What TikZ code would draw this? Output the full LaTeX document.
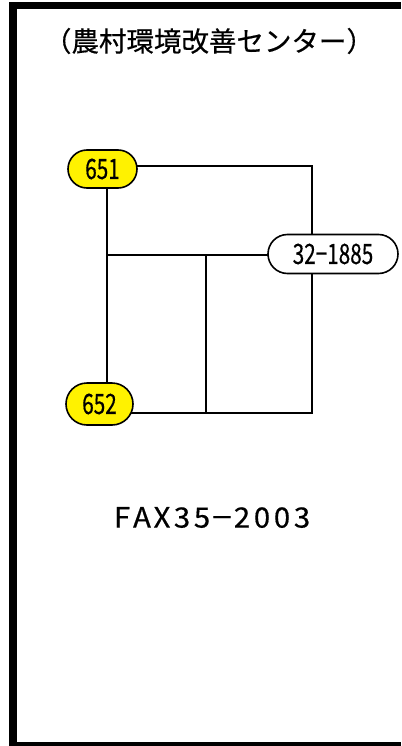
\documentclass[tikz,border=0pt]{standalone}
\usepackage{fontspec}
\newfontfamily\jp{Noto Sans CJK JP}[FakeBold=0.5]
\usetikzlibrary{shapes.misc}
\pgfdeclarelayer{paper}
\pgfdeclarelayer{wires}
\pgfsetlayers{paper,wires,main}
\newcommand\fw[1]{\makebox[20bp]{\scalebox{1.05}[1]{#1}}}
\tikzset{
  pill/.style={rounded rectangle, draw=black, line width=1.6bp, inner sep=0pt},
  yel/.style={pill, fill=yellow},
  wht/.style={pill, fill=white},
  wire/.style={line width=1.6bp, draw=black},
  numtxt/.style={font=\jp\fontsize{28bp}{30bp}\selectfont},
}
\begin{document}
\begin{tikzpicture}[x=1bp,y=-1bp]
\useasboundingbox (0,0) rectangle (401,746);
\begin{pgfonlayer}{paper}
\fill[white] (0,0) rectangle (401,746);
\end{pgfonlayer}
% frame
\fill[black] (9,2) rectangle (401,9);
\fill[black] (9,2) rectangle (17,746);
\fill[black] (9,742) rectangle (401,746);
% title
\node[font=\jp\fontsize{27.5bp}{30bp}\selectfont, inner sep=0pt] (title) at (209,41) {（農村環境改善センター）};
% nodes
\node[yel, minimum width=69bp, minimum height=38bp, numtxt] (n651) at (102.5,169) {\scalebox{0.74}[1]{651}};
\node[yel, minimum width=67bp, minimum height=42bp, numtxt] (n652) at (99.5,404) {\scalebox{0.74}[1]{652}};
\node[wht, minimum width=130bp, minimum height=39bp, numtxt] (n3) at (333,254) {\scalebox{0.74}[1]{32−1885}};
% fax
\node[font=\jp\fontsize{28bp}{30bp}\selectfont, inner sep=0pt] (fax) at (212,517.5) {\fw{F}\fw{A}\fw{X}\fw{3}\fw{5}\makebox[20bp]{\scalebox{0.85}[1]{－}}\fw{2}\fw{0}\fw{0}\fw{3}};
% connectors
\coordinate (tr) at (312,166);
\coordinate (vl) at (107,255);
\coordinate (mj) at (206,255);
\coordinate (br) at (312,413);
\begin{pgfonlayer}{wires}
\draw[wire] (n651.center |- tr) -- (tr) -- (tr |- n3.center);
\draw[wire] (n651.center -| vl) -- (n652.center -| vl);
\draw[wire] (vl) -- (vl -| n3.center);
\draw[wire] (mj) -- (mj |- br);
\draw[wire] (n652.center |- br) -- (br) -- (br |- n3.center);
\end{pgfonlayer}
\end{tikzpicture}
\end{document}
